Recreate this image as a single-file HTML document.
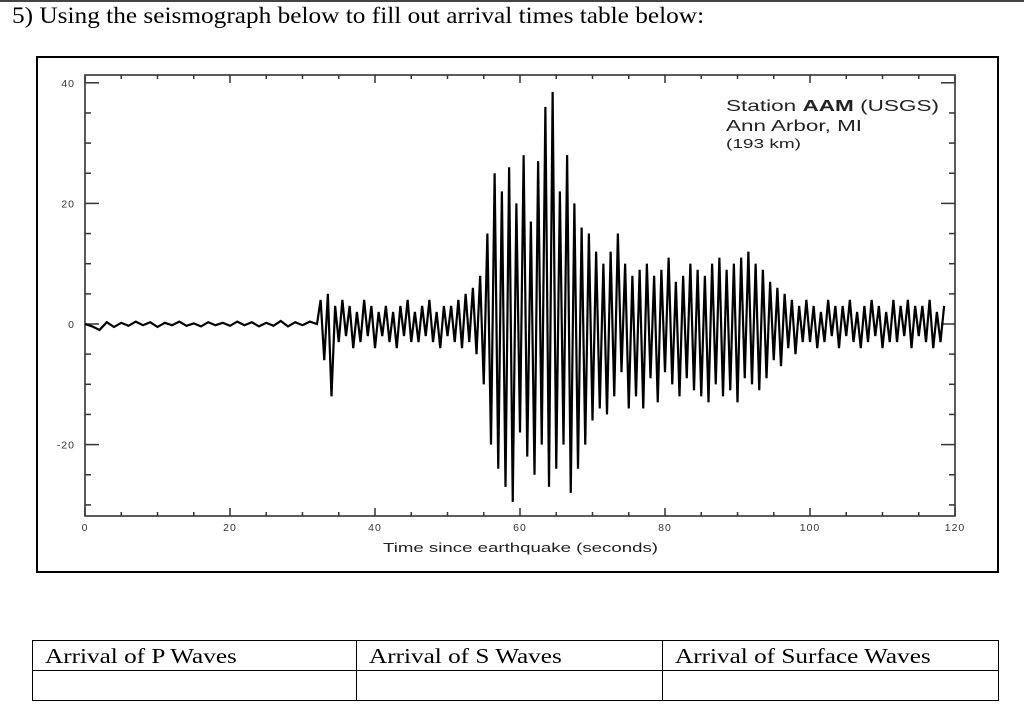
<!DOCTYPE html>
<html><head><meta charset="utf-8"><style>
body{margin:0;width:1024px;height:712px;background:#fff;position:relative;overflow:hidden;font-family:"Liberation Serif",serif}
.hdr{position:absolute;left:12px;top:3px;font-size:23px;color:#000;white-space:nowrap;transform:scaleX(1.1);transform-origin:0 0}
.topline{position:absolute;left:0;top:0;width:1024px;height:2px;background:#444}
.box{position:absolute;left:36px;top:56px;width:959px;height:513px;border:2px solid #000}
table{position:absolute;left:32px;top:640px;border-collapse:collapse}
td{border:1px solid #000;height:29px;padding:0 0 0 12px;font-size:21px;vertical-align:middle}
td span{display:inline-block;transform:scaleX(1.2);transform-origin:0 50%;margin-top:2px}
</style></head><body>
<div class="topline"></div>
<div class="hdr">5) Using the seismograph below to fill out arrival times table below:</div>
<div class="box"></div>
<svg id="chart" width="1024" height="712" style="position:absolute;left:0;top:0"></svg>
<table>
<tr><td style="width:311px"><span>Arrival of P Waves</span></td><td style="width:293px"><span>Arrival of S Waves</span></td><td style="width:323px"><span>Arrival of Surface Waves</span></td></tr>
<tr><td></td><td></td><td></td></tr>
</table>
<script>
const xTicks=[0,20,40,60,80,100,120];
const yTicks=[40,20,0,-20];
const preStart=0, preStep=1;
const preValues=[0,-0.4,-1,0.3,-0.5,0.2,-0.3,0.4,-0.2,0.3,-0.5,0.2,-0.2,0.4,-0.3,0.1,-0.4,0.3,-0.2,0.2,-0.3,0.4,-0.2,0.3,-0.4,0.2,-0.3,0.5,-0.4,0.3,-0.2,0.4];
const mainStart=32, mainStep=0.5;
const mainValues=[0,4,-6,5,-12,3,-3,4,-2,3,-4,2,-3,4,-2,3,-4,2,-2,3,-3,2,-4,3,-2,4,-3,2,-3,3,-2,4,-3,2,-4,3,-2,3,-3,4,-4,5,-3,6,-5,8,-10,15,-20,25,-24,22,-27,26,-29.5,20,-18,28,-22,17,-25,27,-20,36,-27,38.5,-24,22,-20,28,-28,20,-24,16,-20,15,-16,12,-14,10,-15,12,-12,15,-8,10,-14,8,-12,9,-14,10,-9,8,-13,9,-8,11,-10,7,-12,8,-9,10,-11,9,-12,8,-13,10,-10,11,-12,9,-11,10,-13,11,-9,12,-10,10,-11,9,-9,7,-6,6,-7,5,-4,4,-5,3,-3,4,-3,3,-4,2,-3,4,-2,3,-4,3,-2,4,-3,2,-4,3,-3,4,-2,3,-4,2,-3,4,-3,3,-2,4,-4,3,-2,3,-3,4,-4,2,-3,3];
const X=v=>85+v*7.25, Y=v=>324-v*6.03;
const svg=document.getElementById('chart'), NS='http://www.w3.org/2000/svg';
function mk(t,a){const e=document.createElementNS(NS,t);for(const k in a)e.setAttribute(k,a[k]);svg.appendChild(e);return e;}
let f=mk('rect',{x:85,y:75,width:870,height:441,fill:'none',stroke:'#333','stroke-width':1.6});


for(let v=0;v<=120;v+=5){const big=v%20==0,L=big?8:4;
 mk('line',{x1:X(v),x2:X(v),y1:516,y2:516-L,stroke:'#333','stroke-width':1.5});
 mk('line',{x1:X(v),x2:X(v),y1:75,y2:75+L,stroke:'#333','stroke-width':1.5});}
for(let v=-30;v<=40;v+=5){const big=v%20==0,L=big?14:6;
 mk('line',{x1:85,x2:85+L,y1:Y(v),y2:Y(v),stroke:'#333','stroke-width':1.5});
 mk('line',{x1:955,x2:955-L,y1:Y(v),y2:Y(v),stroke:'#333','stroke-width':1.5});}
xTicks.forEach(v=>{const t=mk('text',{x:X(v),y:531,'text-anchor':'middle','font-size':10.5,'font-family':'Liberation Sans, sans-serif',fill:'#333','letter-spacing':1});t.textContent=v;
 
 });
yTicks.forEach(v=>{const t=mk('text',{x:75,y:Y(v)+4,'text-anchor':'end','font-size':10.5,'font-family':'Liberation Sans, sans-serif',fill:'#333','letter-spacing':1});t.textContent=v;
 
 });
let xt=mk('text',{x:383,y:552,'font-size':13,'font-family':'Liberation Sans, sans-serif',fill:'#222',textLength:275,lengthAdjust:'spacingAndGlyphs'});xt.textContent='Time since earthquake (seconds)';


let pts=[];
preValues.forEach((v,i)=>pts.push(X(preStart+i*preStep)+','+Y(v)));
mainValues.forEach((v,i)=>pts.push(X(mainStart+i*mainStep)+','+Y(v)));
let tr=mk('polyline',{points:pts.join(' '),fill:'none',stroke:'#000','stroke-width':2.2,'stroke-linejoin':'miter'});


let g=mk('text',{x:726,y:111,'font-size':16,'font-family':'Liberation Sans, sans-serif',fill:'#222',textLength:213,lengthAdjust:'spacingAndGlyphs'});
g.innerHTML='Station <tspan font-weight="bold">AAM</tspan> (USGS)';


let g2=mk('text',{x:726,y:131,'font-size':16,'font-family':'Liberation Sans, sans-serif',fill:'#222',textLength:136,lengthAdjust:'spacingAndGlyphs'});g2.textContent='Ann Arbor, MI';


let g3=mk('text',{x:726,y:148,'font-size':13,'font-family':'Liberation Sans, sans-serif',fill:'#222',textLength:75,lengthAdjust:'spacingAndGlyphs'});g3.textContent='(193 km)';


</script>
</body></html>
